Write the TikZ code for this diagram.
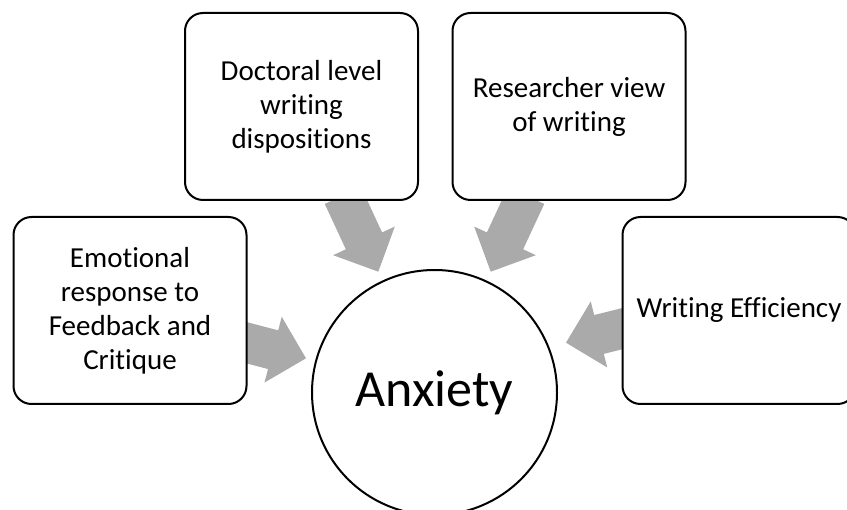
\documentclass[tikz,border=0pt]{standalone}
\usepackage{fontspec}
\setmainfont{Carlito}[Ligatures={NoCommon,NoRare,NoContextual}]
\usetikzlibrary{calc}
\definecolor{arrowgray}{RGB}{170,170,170}
\newcommand\blockarrow[2]{%
  \coordinate (hb-#1) at ($(#2)!34pt!(#1)$);
  \fill[arrowgray] ($(#1)!20pt!90:(#2)$) -- ($(hb-#1)!20pt!90:(#2)$) -- ($(hb-#1)!34pt!90:(#2)$)
    -- (#2) -- ($(hb-#1)!34pt!-90:(#2)$) -- ($(hb-#1)!20pt!-90:(#2)$) -- ($(#1)!20pt!-90:(#2)$) -- cycle;}
\tikzset{
  box/.style={draw=black, line width=2pt, rounded corners=18pt, fill=white,
    minimum width=233pt, minimum height=187pt, align=center, inner sep=0pt,
    font=\fontsize{29}{34}\selectfont},
  hub/.style={draw=black, line width=2pt, circle, fill=white, minimum size=245pt,
    inner sep=0pt, font=\fontsize{52}{60}\selectfont}
}
\begin{document}
\begin{tikzpicture}[x=1pt,y=-1pt]
\useasboundingbox (0,0) rectangle (847,510);
% arrow end points
\coordinate (s1) at (241.9,341.5);
\coordinate (t1) at (306,358.3);
\coordinate (s2) at (342.9,195.5);
\coordinate (t2) at (378.3,271.7);
\coordinate (s3) at (526.1,195.5);
\coordinate (t3) at (490.7,271.7);
\coordinate (s4) at (626.9,327.5);
\coordinate (t4) at (566,342.7);
\blockarrow{s1}{t1}
\blockarrow{s2}{t2}
\blockarrow{s3}{t3}
\blockarrow{s4}{t4}
% nodes
\node[box] (b1) at (130,310.5) {Emotional\\response to\\Feedback and\\Critique};
\node[box] (b2) at (301.5,106.5) {Doctoral level\\writing\\dispositions};
\node[box] (b3) at (569,106.5) {Researcher view\\of writing};
\node[box] (b4) at (739,310.5) {Writing Efficiency};
\node[hub] (anx) at (434.5,392.5) {Anxiety};
\end{tikzpicture}
\end{document}
